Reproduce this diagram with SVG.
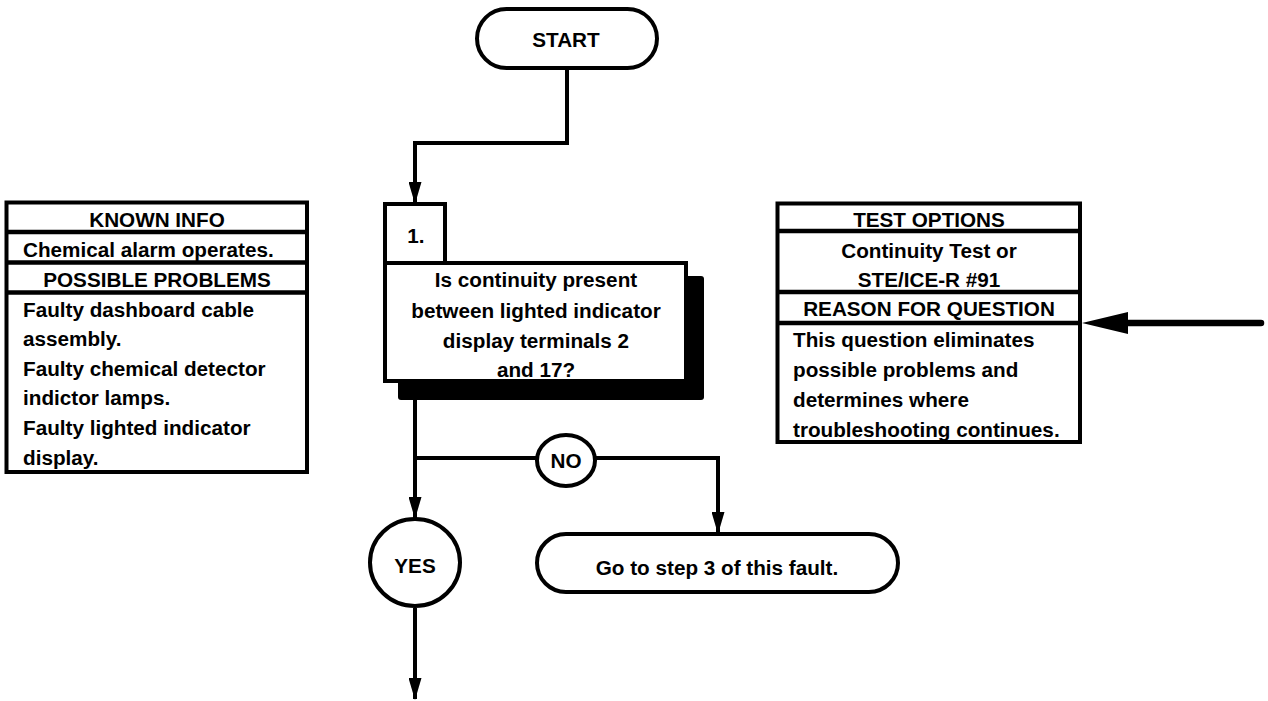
<svg xmlns="http://www.w3.org/2000/svg" width="1268" height="701" viewBox="0 0 1268 701">
<defs>
<style>
text{font-family:"Liberation Sans",Arial,Helvetica,sans-serif;font-weight:bold;font-size:20.7px;fill:#000}
.c{text-anchor:middle}
.box{fill:#fff;stroke:#000;stroke-width:4}
.sep{stroke:#000;stroke-width:4.5}
.ln{fill:none;stroke:#000;stroke-width:4}
</style>
<marker id="ah" markerUnits="userSpaceOnUse" markerWidth="22" markerHeight="13" refX="21" refY="6.5" orient="auto" viewBox="0 0 22 13">
<path d="M0,0 L22,6.5 L0,13 z" fill="#000"/>
</marker>
</defs>
<rect width="1268" height="701" fill="#fff"/>

<g id="connectors">
<path class="ln" d="M567,69 V143 H415 V203" marker-end="url(#ah)"/>
<path class="ln" d="M415,400 V518" marker-end="url(#ah)"/>
<path class="ln" d="M415,458 H537"/>
<path class="ln" d="M595,458 H718 V533" marker-end="url(#ah)"/>
<path class="ln" d="M415,608 V699" marker-end="url(#ah)"/>
<path d="M1125,323 H1261" fill="none" stroke="#000" stroke-width="6.5" stroke-linecap="round"/>
<polygon points="1082,323 1128,312 1128,334" fill="#000"/>
</g>

<g id="start">
<rect class="box" x="477" y="9" width="180" height="59" rx="29.5"/>
<text class="c" x="566" y="47">START</text>
</g>

<g id="known-info">
<rect class="box" x="6.5" y="202.5" width="300.5" height="269.5"/>
<line class="sep" x1="6.5" y1="232" x2="307" y2="232"/>
<line class="sep" x1="6.5" y1="262.5" x2="307" y2="262.5"/>
<line class="sep" x1="6.5" y1="292.5" x2="307" y2="292.5"/>
<text class="c" x="157" y="227">KNOWN INFO</text>
<text x="23" y="257">Chemical alarm operates.</text>
<text class="c" x="157" y="287">POSSIBLE PROBLEMS</text>
<text x="23" y="316.5">Faulty dashboard cable</text>
<text x="23" y="346">assembly.</text>
<text x="23" y="375.7">Faulty chemical detector</text>
<text x="23" y="405.3">indictor lamps.</text>
<text x="23" y="434.9">Faulty lighted indicator</text>
<text x="23" y="464.5">display.</text>
</g>

<g id="step1">
<rect x="398" y="276" width="306" height="124" rx="3" fill="#000"/>
<rect class="box" x="385" y="204" width="60" height="59"/>
<text class="c" x="416" y="243">1.</text>
<rect class="box" x="385" y="263" width="301" height="118"/>
<text class="c" x="536" y="287">Is continuity present</text>
<text class="c" x="536" y="318">between lighted indicator</text>
<text class="c" x="536" y="348">display terminals 2</text>
<text class="c" x="536" y="377">and 17?</text>
</g>

<g id="test-options">
<rect class="box" x="777.5" y="203.5" width="302.5" height="238.5"/>
<line class="sep" x1="777.5" y1="231" x2="1080" y2="231"/>
<line class="sep" x1="777.5" y1="292" x2="1080" y2="292"/>
<line class="sep" x1="777.5" y1="323" x2="1080" y2="323"/>
<text class="c" x="929" y="227">TEST OPTIONS</text>
<text class="c" x="929" y="258">Continuity Test or</text>
<text class="c" x="929" y="287">STE/ICE-R #91</text>
<text class="c" x="929" y="316">REASON FOR QUESTION</text>
<text x="793" y="347">This question eliminates</text>
<text x="793" y="377">possible problems and</text>
<text x="793" y="407">determines where</text>
<text x="793" y="437">troubleshooting continues.</text>
</g>

<g id="no">
<ellipse class="box" cx="566" cy="460.5" rx="29" ry="25.5"/>
<text class="c" x="566" y="468">NO</text>
</g>

<g id="yes">
<ellipse class="box" cx="415" cy="562.5" rx="45" ry="43.5"/>
<text class="c" x="415" y="573">YES</text>
</g>

<g id="goto-step3">
<rect class="box" x="537" y="534" width="361" height="58" rx="29"/>
<text class="c" x="717" y="575">Go to step 3 of this fault.</text>
</g>
</svg>
